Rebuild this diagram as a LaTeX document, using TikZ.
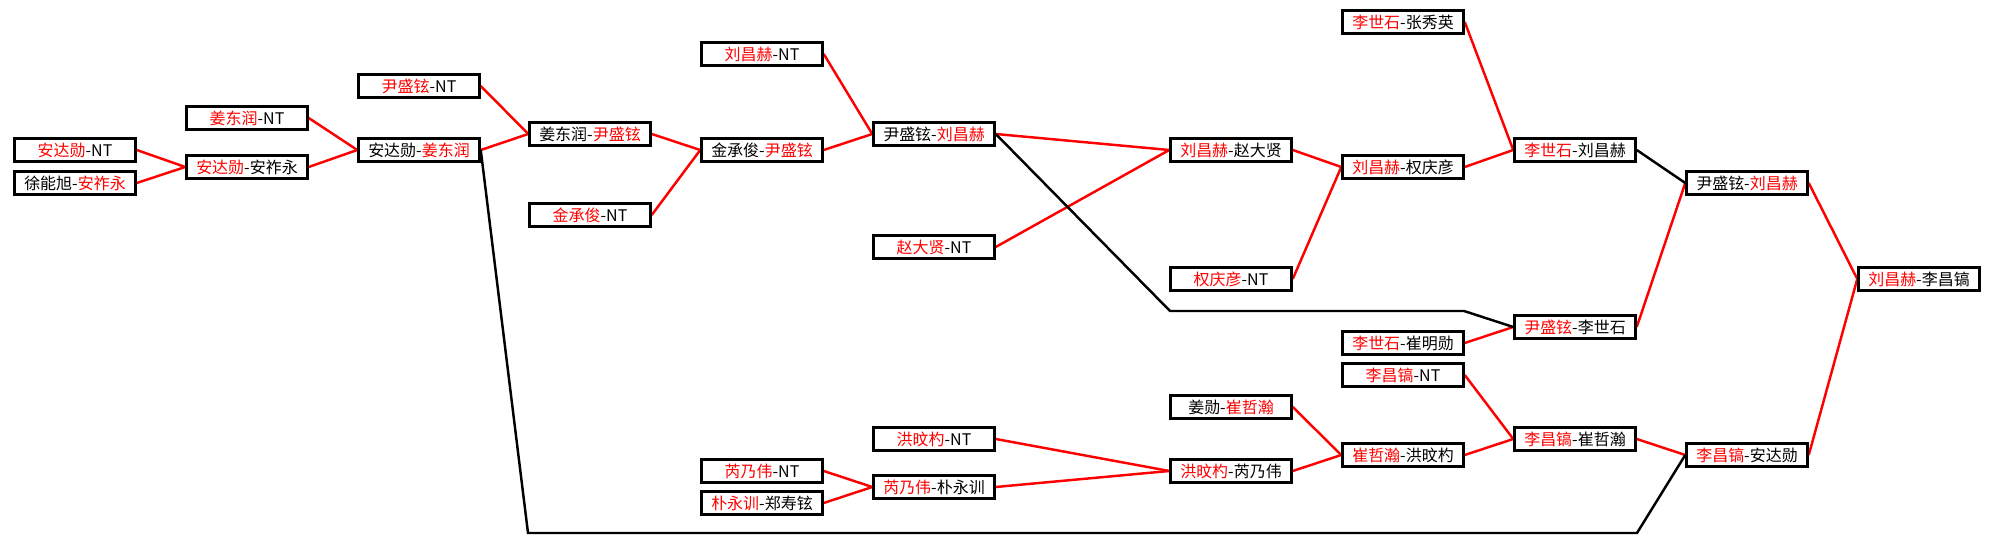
\documentclass[tikz,border=0pt]{standalone}
\usepackage{fontspec}
\setmainfont{Noto Sans CJK SC}
\usepackage{xcolor}
\usetikzlibrary{backgrounds}
\newcommand{\won}[1]{\textcolor{red}{#1}}
\tikzset{
  game/.style={draw=black, line width=1.7pt, fill=white, inner sep=0pt,
    minimum width=24.1mm, minimum height=4.5mm, font=\fontsize{9.1}{10}\selectfont},
  winline/.style={red, line width=1.4pt},
  loseline/.style={black, line width=1.4pt}
}

\begin{document}
\begin{tikzpicture}[x=0.2mm, y=-0.2mm]
    \useasboundingbox (0,0) rectangle (1991,557);
    % left half of the draw
    \node[game] (adxNT)  at (75,150)  {\won{安达勋}-NT};
    \node[game] (xnxAzy) at (75,183)  {徐能旭-\won{安祚永}};
    \node[game] (jdrNT)  at (247,118) {\won{姜东润}-NT};
    \node[game] (adxAzy) at (247,167) {\won{安达勋}-安祚永};
    \node[game] (ysxNT)  at (419,86)  {\won{尹盛铉}-NT};
    \node[game] (adxJdr) at (419,150) {安达勋-\won{姜东润}};
    \node[game] (jdrYsx) at (590,134) {姜东润-\won{尹盛铉}};
    \node[game] (jcjNT)  at (590,215) {\won{金承俊}-NT};
    \node[game] (lchNT)  at (762,54)  {\won{刘昌赫}-NT};
    \node[game] (jcjYsx) at (762,150) {金承俊-\won{尹盛铉}};
    \node[game] (ysxLch) at (934,134) {尹盛铉-\won{刘昌赫}};
    \node[game] (zdxNT)  at (934,247) {\won{赵大贤}-NT};
    \node[game] (lchZdx) at (1231,150) {\won{刘昌赫}-赵大贤};
    \node[game] (qqyNT)  at (1231,279) {\won{权庆彦}-NT};
    \node[game] (lssZxy) at (1403,22)  {\won{李世石}-张秀英};
    \node[game] (lchQqy) at (1403,167) {\won{刘昌赫}-权庆彦};
    \node[game] (lssLch) at (1575,150) {\won{李世石}-刘昌赫};
    \node[game] (ysxLss) at (1575,327) {\won{尹盛铉}-李世石};
    \node[game] (lssCmx) at (1403,343) {\won{李世石}-崔明勋};
    % right half of the draw
    \node[game] (lcgNT)  at (1403,375) {\won{李昌镐}-NT};
    \node[game] (jxChh)  at (1231,407) {姜勋-\won{崔哲瀚}};
    \node[game] (hmbNT)  at (934,439)  {\won{洪旼杓}-NT};
    \node[game] (rnwNT)  at (762,471)  {\won{芮乃伟}-NT};
    \node[game] (pyxZsx) at (762,503)  {\won{朴永训}-郑寿铉};
    \node[game] (rnwPyx) at (934,487)  {\won{芮乃伟}-朴永训};
    \node[game] (hmbRnw) at (1231,471) {\won{洪旼杓}-芮乃伟};
    \node[game] (chhHmb) at (1403,455) {\won{崔哲瀚}-洪旼杓};
    \node[game] (lcgChh) at (1575,439) {\won{李昌镐}-崔哲瀚};
    \node[game] (lcgAdx) at (1747,455) {\won{李昌镐}-安达勋};
    % final rounds
    \node[game] (ysxLch2) at (1747,183) {尹盛铉-\won{刘昌赫}};
    \node[game] (lchLcg)  at (1919,279) {\won{刘昌赫}-李昌镐};
    \coordinate (dropA) at (528,533);
    \coordinate (dropB) at (1637,533);
    \coordinate (bendA) at (1170,311);
    \coordinate (bendB) at (1464,311);
    \begin{scope}[on background layer]
      \fill[white] (0,0) rectangle (1991,557);
      \foreach \a/\b in {adxNT/adxAzy, xnxAzy/adxAzy, jdrNT/adxJdr, adxAzy/adxJdr,
          ysxNT/jdrYsx, adxJdr/jdrYsx, jdrYsx/jcjYsx, jcjNT/jcjYsx, lchNT/ysxLch,
          jcjYsx/ysxLch, ysxLch/lchZdx, zdxNT/lchZdx, lchZdx/lchQqy, qqyNT/lchQqy,
          lssZxy/lssLch, lchQqy/lssLch, lssCmx/ysxLss, ysxLss/ysxLch2, ysxLch2/lchLcg,
          lcgAdx/lchLcg, rnwNT/rnwPyx, pyxZsx/rnwPyx, hmbNT/hmbRnw, rnwPyx/hmbRnw,
          jxChh/chhHmb, hmbRnw/chhHmb, lcgNT/lcgChh, chhHmb/lcgChh, lcgChh/lcgAdx}
        \draw[winline] (\a.east) -- (\b.west);
      \draw[loseline] (lssLch.east) -- (ysxLch2.west);
      \draw[loseline] (ysxLch.east) -- (bendA) -- (bendB) -- (ysxLss.west);
      \draw[loseline] (adxJdr.east) -- (dropA) -- (dropB) -- (lcgAdx.west);
    \end{scope}
\end{tikzpicture}
\end{document}
